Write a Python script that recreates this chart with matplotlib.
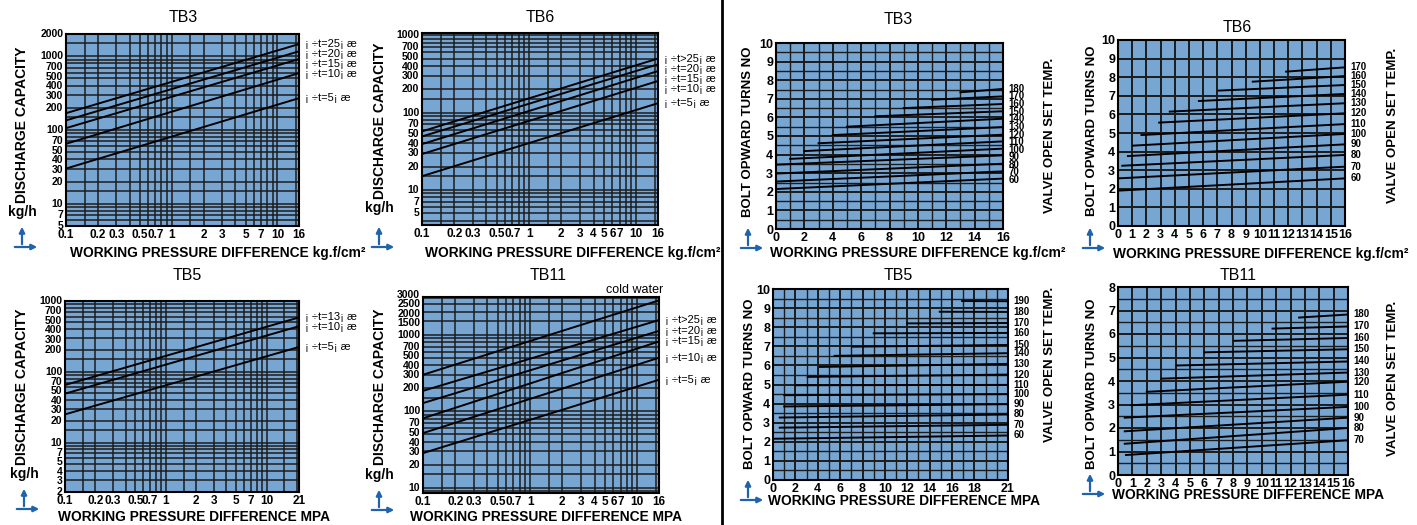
import numpy as np
import matplotlib
matplotlib.use('Agg')
import matplotlib.pyplot as plt
from matplotlib.ticker import FixedLocator, NullFormatter, MultipleLocator
from matplotlib.patches import FancyArrowPatch
from matplotlib.lines import Line2D

plt.rcParams['font.family'] = ['Liberation Sans', 'DejaVu Sans']

W, H = 1417, 525
BLUE = '#78A6D3'
GRID = '#1c1c1c'
ARROW = '#1f63ad'

# ---- discharge capacity charts (log-log), values at start / end of each line
tb3_dp = [0.1, 16]
tb3_names = ['¡ ÷t=25¡ æ', '¡ ÷t=20¡ æ', '¡ ÷t=15¡ æ', '¡ ÷t=10¡ æ', '¡ ÷t=5¡ æ']
tb3_start = [169, 135, 106, 65, 30]
tb3_end = [1460, 1165, 915, 590, 270]
tb3_xticks = [0.1, 0.2, 0.3, 0.5, 0.7, 1, 2, 3, 5, 7, 10, 16]
tb3_yticks = [5, 7, 10, 20, 30, 40, 50, 70, 100, 200, 300, 400, 500, 700, 1000, 2000]

tb6_dp = [0.1, 16]
tb6_names = ['¡ ÷t>25¡ æ', '¡ ÷t=20¡ æ', '¡ ÷t=15¡ æ', '¡ ÷t=10¡ æ', '¡ ÷t=5¡ æ']
tb6_start = [57, 49, 39, 29, 15]
tb6_end = [500, 421, 344, 256, 132]
tb6_xticks = [0.1, 0.2, 0.3, 0.5, 0.7, 1, 2, 3, 4, 5, 6, 7, 10, 16]
tb6_yticks = [5, 7, 10, 20, 30, 40, 50, 70, 100, 200, 300, 400, 500, 700, 1000]

tb5_dp = [0.1, 21]
tb5_names = ['¡ ÷t=13¡ æ', '¡ ÷t=10¡ æ', '¡ ÷t=5¡ æ']
tb5_start = [65, 49, 25]
tb5_end = [586, 440, 224]
tb5_xticks = [0.1, 0.2, 0.3, 0.5, 0.7, 1, 2, 3, 5, 7, 10, 21]
tb5_yticks = [2, 3, 4, 5, 7, 10, 20, 30, 40, 50, 70, 100, 200, 300, 400, 500, 700, 1000]

tb11_dp = [0.1, 16]
tb11_names = ['cold water', '¡ ÷t>25¡ æ', '¡ ÷t=20¡ æ', '¡ ÷t=15¡ æ', '¡ ÷t=10¡ æ', '¡ ÷t=5¡ æ']
tb11_start = [300, 185, 128, 81, 52, 28.5]
tb11_end = [2800, 1550, 1120, 815, 500, 258]
tb11_xticks = [0.1, 0.2, 0.3, 0.5, 0.7, 1, 2, 3, 4, 5, 6, 7, 10, 16]
tb11_yticks = [10, 20, 30, 40, 50, 70, 100, 200, 300, 400, 500, 700, 1000, 1500, 2000, 2500, 3000]

# ---- bolt turns charts: line start (x0, y0) and value at right edge (y1)
tb3r_temps = [60, 70, 80, 90, 100, 110, 120, 130, 140, 150, 160, 170, 180]
tb3r_x0 = [0, 0, 0, 0, 1, 2, 3, 4, 5, 7, 9, 11, 13]
tb3r_y0 = [2.15, 2.55, 2.98, 3.46, 3.77, 4.19, 4.61, 5.05, 5.5, 6.06, 6.5, 6.95, 7.35]
tb3r_y1 = [2.71, 3.10, 3.51, 3.96, 4.32, 4.71, 5.07, 5.48, 5.93, 6.33, 6.72, 7.13, 7.53]

tb6r_temps = [60, 70, 80, 90, 100, 110, 120, 130, 140, 150, 160, 170]
tb6r_x0 = [0, 0, 0.3, 0.7, 1.05, 1.65, 2.9, 3.65, 5.7, 7.1, 9.5, 11.85]
tb6r_y0 = [1.90, 2.56, 3.24, 3.76, 4.32, 4.89, 5.56, 6.15, 6.72, 7.28, 7.76, 8.30]
tb6r_y1 = [2.56, 3.19, 3.82, 4.39, 4.95, 5.48, 6.06, 6.60, 7.10, 7.58, 8.06, 8.53]

tb5r_temps = [60, 70, 80, 90, 100, 110, 120, 130, 140, 150, 160, 170, 180, 190]
tb5r_x0 = [0, 0.6, 0.6, 1, 1, 2, 3.1, 4.2, 5.5, 7.1, 9, 12, 14.9, 16.9]
tb5r_y0 = [2.16, 2.74, 3.27, 3.85, 4.44, 4.96, 5.40, 5.92, 6.50, 6.98, 7.68, 8.2, 8.81, 9.37]
tb5r_y1 = [2.33, 2.89, 3.43, 3.97, 4.50, 4.98, 5.52, 6.08, 6.64, 7.07, 7.70, 8.22, 8.80, 9.36]

tb11r_temps = [70, 80, 90, 100, 110, 120, 130, 140, 150, 160, 170, 180]
tb11r_x0 = [0.55, 0.47, 0.47, 0.47, 0.95, 2.0, 3.03, 4.08, 6.0, 8.1, 10.75, 12.6]
tb11r_y0 = [0.85, 1.33, 1.86, 2.44, 2.97, 3.54, 4.10, 4.66, 5.22, 5.71, 6.23, 6.70]
tb11r_y1 = [1.48, 2.0, 2.44, 2.90, 3.42, 3.97, 4.36, 4.83, 5.35, 5.83, 6.32, 6.83]

fig = plt.figure(figsize=(W / 100, H / 100), dpi=100)


def box(l, t, r, b):
    return [l / W, 1 - b / H, (r - l) / W, (b - t) / H]


def ptext(x, y, s, **kw):
    fig.text(x / W, 1 - y / H, s, **kw)


def arrow_icon(cx, cy):
    # little blue axis sign under the y label
    for (x1, y1), (x2, y2) in [((cx, cy), (cx, cy - 23)), ((cx - 10, cy), (cx + 18, cy))]:
        fig.add_artist(FancyArrowPatch((x1 / W, 1 - y1 / H), (x2 / W, 1 - y2 / H),
                                       transform=fig.transFigure, arrowstyle='-|>',
                                       mutation_scale=8, color=ARROW, lw=1.6))


def grid_log(lo, hi):
    vals = []
    d = 10.0 ** np.floor(np.log10(lo))
    while d <= hi:
        for m in (1, 1.5, 2, 3, 4, 5, 6, 7, 8, 9):
            if lo < m * d < hi:
                vals.append(m * d)
        d *= 10
    return vals


def spread(ax, x, ys, gap):
    # push line-end labels apart so they keep at least `gap` pixels between them
    disp = [ax.transData.transform((x, y))[1] for y in ys]
    order = sorted(range(len(ys)), key=lambda i: -disp[i])
    for k in range(1, len(order)):
        i, j = order[k - 1], order[k]
        if disp[i] - disp[j] < gap:
            disp[j] = disp[i] - gap
    return [ax.transData.inverted().transform((x, d))[1] for d in disp]


def spread_both(ax, ys, gap):
    # same idea but pushing both neighbours (used for crowded tick labels)
    d = [ax.transData.transform((1, y))[1] for y in ys]
    order = sorted(range(len(d)), key=lambda i: d[i])
    for _ in range(100):
        moved = False
        for k in range(1, len(order)):
            i, j = order[k - 1], order[k]
            diff = d[j] - d[i]
            if diff < gap - 1e-6:
                push = (gap - diff) / 2
                d[i] -= push
                d[j] += push
                moved = True
        if not moved:
            break
    return [ax.transData.inverted().transform((1, v))[1] for v in d]


def style(ax):
    ax.set_facecolor(BLUE)
    ax.tick_params(which='both', length=0, pad=2)
    for s in ax.spines.values():
        s.set_linewidth(1.5)
    ax.set_axisbelow(True)


def capacity_panel(px, dp, names, start, end, xticks, yticks, ylim):
    ax = fig.add_axes(box(*px))
    style(ax)
    ax.set_xscale('log')
    ax.set_yscale('log')
    ax.set_xticks(xticks, labels=[f'{v:g}' for v in xticks], fontsize=8.5, fontweight='bold')
    ax.set_yticks(yticks, labels=[])
    ax.xaxis.set_minor_locator(FixedLocator(grid_log(dp[0], dp[1])))
    ax.yaxis.set_minor_locator(FixedLocator(grid_log(*ylim)))
    ax.xaxis.set_minor_formatter(NullFormatter())
    ax.yaxis.set_minor_formatter(NullFormatter())
    ax.set_xlim(dp[0], dp[1])
    ax.set_ylim(*ylim)
    ax.grid(which='both', color=GRID, lw=1.1)
    # y tick labels, spread a little where the log scale packs them
    for v, y in zip(yticks, spread_both(ax, yticks, 9.5)):
        ax.annotate(f'{v:g}', (0, y), xycoords=('axes fraction', 'data'),
                    xytext=(-2, 0), textcoords='offset points', ha='right',
                    va='center', fontsize=7.5, fontweight='bold', annotation_clip=False)
    for a, b in zip(start, end):
        ax.plot(dp, [a, b], color='k', lw=1.4)
    tagged = [(n, b) for n, b in zip(names, end) if n != 'cold water']
    pos = spread(ax, dp[1], [b for _, b in tagged], 10)
    for (name, _), y in zip(tagged, pos):
        ax.annotate(name, (dp[1], y), xytext=(4, 0), textcoords='offset points',
                    va='center', fontsize=8, annotation_clip=False)
    for name, b in zip(names, end):
        if name == 'cold water':
            ax.annotate(name, (dp[1], b), xytext=(3, 3), textcoords='offset points',
                        ha='right', va='bottom', fontsize=9, annotation_clip=False)
    return ax


def turns_panel(px, xmax, ymax, xticks, temps, x0, y0, y1, ystep):
    ax = fig.add_axes(box(*px))
    style(ax)
    ax.set_xticks(xticks, labels=[str(v) for v in xticks], fontsize=9, fontweight='bold')
    yt = list(range(ymax + 1))
    ax.set_yticks(yt, labels=[str(v) for v in yt], fontsize=9, fontweight='bold')
    ax.xaxis.set_minor_locator(MultipleLocator(1))
    ax.yaxis.set_minor_locator(MultipleLocator(ystep))
    ax.set_xlim(0, xmax)
    ax.set_ylim(0, ymax)
    ax.grid(which='major', color=GRID, lw=1.4)
    ax.grid(which='minor', color=GRID, lw=1.0)
    for a, b, c in zip(x0, y0, y1):
        ax.plot([a, xmax], [b, c], color='k', lw=1.4)
    pos = spread(ax, xmax, y1, 7.5)
    for t, y in zip(temps, pos):
        ax.annotate(str(t), (xmax, y), xytext=(4, 0), textcoords='offset points',
                    va='center', fontsize=7, fontweight='bold', annotation_clip=False)
    return ax


XL_KG = 'WORKING PRESSURE DIFFERENCE kg.f/cm²'
XL_MPA = 'WORKING PRESSURE DIFFERENCE MPA'

# left half: discharge capacity
capacity_panel((66, 34, 299, 226), tb3_dp, tb3_names, tb3_start, tb3_end,
               tb3_xticks, tb3_yticks, (5, 2000))
capacity_panel((422, 33, 658, 225), tb6_dp, tb6_names, tb6_start, tb6_end,
               tb6_xticks, tb6_yticks, (3.5, 1070))
capacity_panel((65, 301, 299, 492), tb5_dp, tb5_names, tb5_start, tb5_end,
               tb5_xticks, tb5_yticks, (2, 1000))
capacity_panel((423, 297, 659, 493), tb11_dp, tb11_names, tb11_start, tb11_end,
               tb11_xticks, tb11_yticks, (8.6, 3100))

for title, tx, ty, yx, yy, kx, ky, ax_, ay_, lx, ly, xl in [
        ('TB3', 183, 18, 22, 125, 22, 212, 22, 247, 70, 253, XL_KG),
        ('TB6', 540, 18, 380, 121, 379, 208, 379, 247, 425, 253, XL_KG),
        ('TB5', 187, 275, 22, 387, 24, 474, 24, 509, 58, 517, XL_MPA),
        ('TB11', 548, 276, 380, 387, 379, 475, 379, 510, 410, 517, XL_MPA)]:
    ptext(tx, ty, title, fontsize=11.5, ha='center', va='center')
    ptext(yx, yy, 'DISCHARGE CAPACITY', fontsize=10, fontweight='bold',
          rotation=90, ha='center', va='center')
    ptext(kx, ky, 'kg/h', fontsize=10, fontweight='bold', ha='center', va='center')
    arrow_icon(ax_, ay_)
    ptext(lx, ly, xl, fontsize=9.9, fontweight='bold', ha='left', va='center')

# right half: bolt turns
turns_panel((776, 43, 1003, 229), 16, 10, list(range(0, 17, 2)),
            tb3r_temps, tb3r_x0, tb3r_y0, tb3r_y1, 0.5)
turns_panel((1118, 40, 1345, 226), 16, 10, list(range(0, 17)),
            tb6r_temps, tb6r_x0, tb6r_y0, tb6r_y1, 1)
turns_panel((773, 289, 1008, 480), 21, 10, list(range(0, 19, 2)) + [21],
            tb5r_temps, tb5r_x0, tb5r_y0, tb5r_y1, 0.5)
turns_panel((1118, 287, 1348, 475), 16, 8, list(range(0, 17)),
            tb11r_temps, tb11r_x0, tb11r_y0, tb11r_y1, 0.5)

for title, tx, ty, yx, yy, vx, vy, ax_, ay_, lx, ly, xl in [
        ('TB3', 898, 19, 748, 132, 1050, 135, 748, 248, 770, 253, XL_KG),
        ('TB6', 1237, 27, 1092, 131, 1393, 125, 1090, 248, 1113, 254, XL_KG),
        ('TB5', 898, 275, 750, 384, 1050, 364, 748, 500, 768, 501, XL_MPA),
        ('TB11', 1238, 275, 1092, 384, 1393, 378, 1090, 494, 1112, 495, XL_MPA)]:
    ptext(tx, ty, title, fontsize=11.5, ha='center', va='center')
    ptext(yx, yy, 'BOLT OPWARD TURNS NO', fontsize=9.5, fontweight='bold',
          rotation=90, ha='center', va='center')
    ptext(vx, vy, 'VALVE OPEN SET TEMP.', fontsize=9.5, fontweight='bold',
          rotation=90, ha='center', va='center')
    arrow_icon(ax_, ay_)
    ptext(lx, ly, xl, fontsize=9.9, fontweight='bold', ha='left', va='center')

# divider between the two halves
fig.add_artist(Line2D([722 / W, 722 / W], [0, 1], color='k', lw=2))

fig.savefig('out.png', dpi=100)
